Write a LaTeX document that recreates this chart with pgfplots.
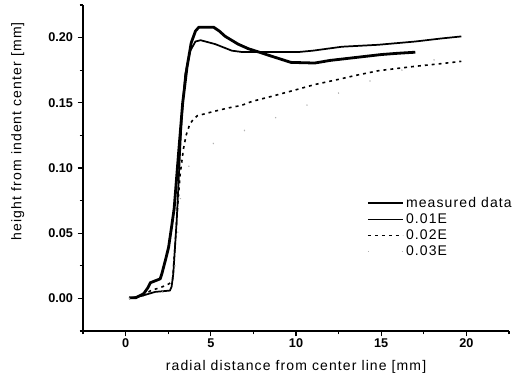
\documentclass[border=0pt]{standalone}
\usepackage{fontspec}
\setmainfont{Liberation Sans}
\newfontfamily\lblfont[LetterSpace=8]{Liberation Sans}
\usepackage{pgfplots}
\pgfplotsset{compat=1.18}
\begin{document}
\begin{tikzpicture}
\begin{axis}[
  name=ax,
  at={(0,0)}, anchor=south west,
  scale only axis,
  width=319.5pt, height=244.5pt,
  xmin=-2.5, xmax=22.5, ymin=-0.025, ymax=0.225,
  axis x line=bottom, axis y line=left,
  axis line style={-, line width=1.2pt},
  tick align=outside,
  xtick={0,5,10,15,20},
  ytick={0,0.05,0.10,0.15,0.20},
  minor xtick={-2.5,2.5,7.5,12.5,17.5,22.5},
  minor ytick={-0.025,0.025,0.075,0.125,0.175,0.225},
  major tick length=4pt, minor tick length=2.5pt,
  tick style={line width=1pt, black},
  yticklabel style={/pgf/number format/fixed,/pgf/number format/fixed zerofill,/pgf/number format/precision=2,font=\fontsize{9.5}{10}\selectfont\bfseries},
  xticklabel style={font=\fontsize{9.5}{10}\selectfont\bfseries, yshift=1.5pt},
  /pgf/number format/assume math mode=true,
  scaled y ticks=false,
  xlabel={\lblfont\fontsize{10.5}{12}\selectfont radial distance from center line [mm]},
  ylabel={\lblfont\fontsize{10.5}{12}\selectfont height from indent center [mm]},
  xlabel style={at={(axis description cs:0.5,-0.11)}, anchor=center},
  ylabel style={at={(axis description cs:-0.153,0.613)}, anchor=center},
  legend style={draw=none, fill=none, at={(axis description cs:0.665,0.418)}, anchor=north west,
    font=\lblfont\fontsize{10.5}{13}\selectfont, row sep=0.3pt, inner sep=0pt,
    nodes={inner sep=1.5pt}},
  legend cell align=left,
  legend image code/.code={\draw[#1] (0pt,0pt) -- (26pt,0pt);},
  clip=false,
]
\addplot[black, line width=2.1pt, line join=round] coordinates {
(0.2,0.0005)(0.6,0.0005)(1.06,0.0036)(1.3,0.008)(1.45,0.012)(1.74,0.0135)(2.03,0.015)(2.13,0.019)(2.23,0.024)(2.33,0.029)(2.52,0.039)(2.7,0.055)(2.85,0.069)(3.1,0.11)(3.35,0.15)(3.6,0.177)(3.85,0.196)(4.1,0.205)(4.3,0.208)(5.16,0.208)(5.5,0.205)(5.84,0.201)(6.6,0.195)(7.2,0.1915)(7.8,0.189)(8.5,0.186)(9.7,0.181)(11.1,0.1805)(12,0.1825)(13,0.184)(14,0.1855)(15,0.187)(16,0.188)(17,0.1888)
};
\addlegendentry{measured data}
\addplot[black, line width=1.3pt, line join=round] coordinates {
(0.2,0)(0.96,0.002)(1.74,0.005)(2.6,0.006)(2.7,0.009)(2.8,0.019)(3.0,0.06)(3.15,0.1)(3.3,0.14)(3.5,0.172)(3.8,0.19)(4.1,0.197)(4.4,0.198)(5.26,0.195)(6.23,0.190)(6.8,0.189)(7.8,0.189)(10.2,0.189)(11,0.190)(12.7,0.193)(14.83,0.1945)(17,0.197)(18.5,0.1993)(19.7,0.2009)
};
\addlegendentry{0.01E}
\addplot[black, line width=1.2pt, dash pattern=on 2.2pt off 3pt] coordinates {
(0.2,0)(1.0,0.002)(1.54,0.0065)(2.0,0.008)(2.52,0.011)(2.75,0.013)(2.9,0.04)(3.05,0.07)(3.2,0.095)(3.4,0.115)(3.55,0.125)(3.75,0.133)(3.95,0.137)(4.2,0.140)(5.06,0.143)(6.0,0.146)(6.8,0.148)(7.4,0.151)(8.58,0.155)(10,0.160)(11.1,0.164)(12.5,0.168)(13.5,0.171)(14.83,0.1746)(17,0.178)(18.5,0.180)(19.7,0.1818)
};
\addlegendentry{0.02E}
\addplot[gray!60, line width=1pt, dash pattern=on 0.8pt off 24.5pt] coordinates {
(0.2,0)(1,0.001)(2,0.004)(2.8,0.008)(3.0,0.04)(3.2,0.075)(3.3,0.088)(3.73,0.102)(5,0.118)(7.2,0.130)(10,0.145)(15,0.17)(19.8,0.190)
};
\addlegendentry{0.03E}
\end{axis}
\path[use as bounding box] (-62.25pt,-39pt) rectangle (324.75pt,248.25pt);
\end{tikzpicture}
\end{document}
